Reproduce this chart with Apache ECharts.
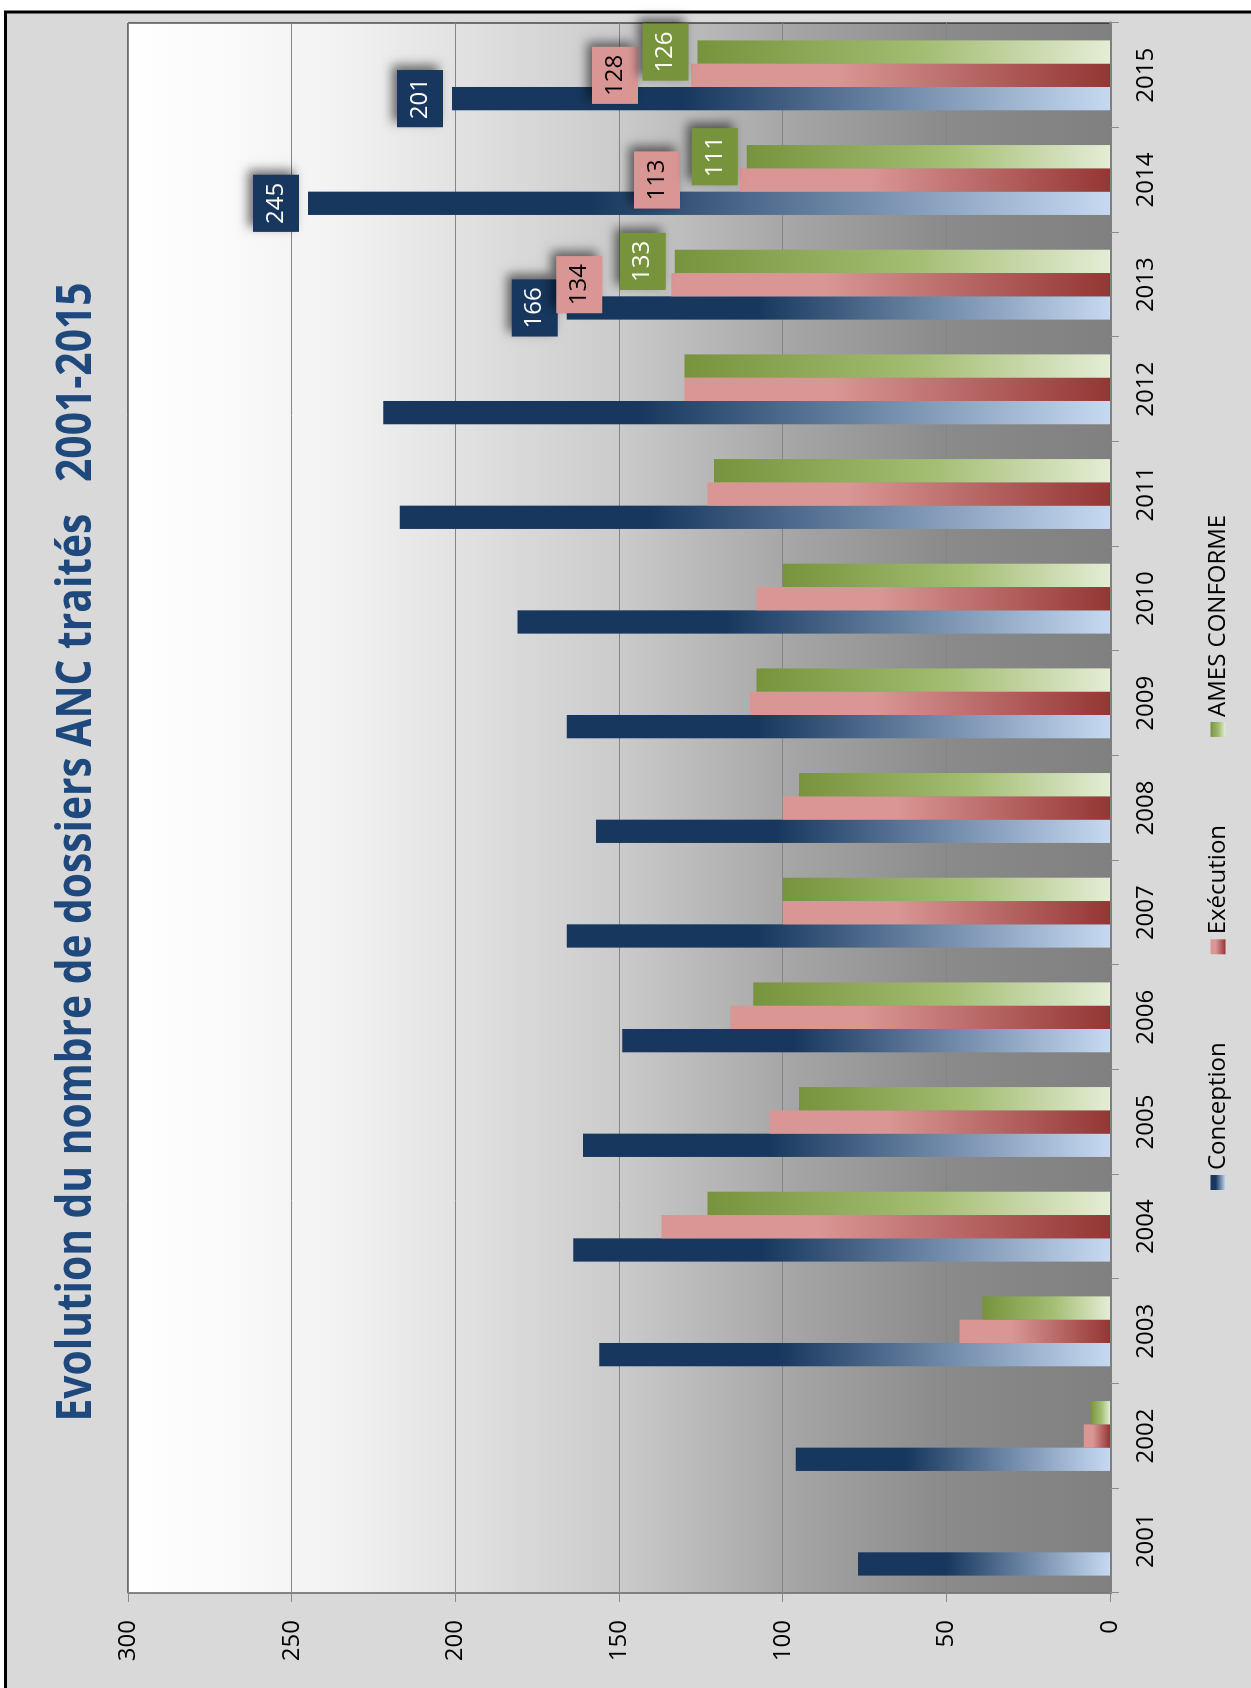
<!DOCTYPE html>
<html>
<head>
<meta charset="utf-8">
<script src="https://cdn.jsdelivr.net/npm/echarts@6/dist/echarts.min.js"></script>
<style>
html,body{margin:0;padding:0;width:1251px;height:1688px;overflow:hidden;background:#fff;}
#chart{position:absolute;left:0;top:0;width:1688px;height:1251px;transform-origin:0 0;transform:translate(0px,1688px) rotate(-90deg);}
</style>
</head>
<body>
<div id="chart"></div>
<script>
// ---- data ----
const categories = ['2001','2002','2003','2004','2005','2006','2007','2008','2009','2010','2011','2012','2013','2014','2015'];
const conception = [77, 96, 156, 164, 161, 149, 166, 157, 166, 181, 217, 222, 166, 245, 201];
const execution  = [0, 8, 46, 137, 104, 116, 100, 100, 110, 108, 123, 130, 134, 113, 128];
const amesConforme = [0, 6, 39, 123, 95, 109, 100, 95, 108, 100, 121, 130, 133, 111, 126];
const seriesNames = ['Conception', 'Exécution', 'AMES CONFORME'];
const labeledYears = ['2013', '2014', '2015'];
const titleText = 'Evolution du nombre de dossiers ANC traités   2001-2015';

// ---- styles (kept apart from data) ----
const LG = echarts.graphic.LinearGradient;
const barColors = [
  new LG(0,0,0,1,[{offset:0,color:'#17375e'},{offset:0.35,color:'#17375e'},{offset:1,color:'#c6d9f1'}]),
  new LG(0,0,0,1,[{offset:0,color:'#d99694'},{offset:0.35,color:'#d99694'},{offset:1,color:'#943634'}]),
  new LG(0,0,0,1,[{offset:0,color:'#77933c'},{offset:0.55,color:'#a3bd72'},{offset:1,color:'#e4edd5'}])
];
const labelBg = ['#17375e', '#d99694', '#77933c'];
const labelFg = ['#ffffff', '#000000', '#ffffff'];
const pinkLabelDistance = {'2013': 69, '2014': 60, '2015': 53};
const FONT = '"Open Sans", "Noto Sans", sans-serif';

function buildData(values, si) {
  return values.map(function (v, i) {
    const cat = categories[i];
    if (labeledYears.indexOf(cat) < 0) return v;
    let dist = 9;
    if (si === 1 && pinkLabelDistance[cat] !== undefined) dist = pinkLabelDistance[cat];
    return {
      value: v,
      label: {
        show: true, position: 'top', distance: dist,
        formatter: '{c}',
        color: labelFg[si], backgroundColor: labelBg[si],
        fontFamily: FONT, fontSize: 24, lineHeight: 24,
        padding: [11, 8, 11, 8],
        shadowColor: 'rgba(0,0,0,0.55)', shadowBlur: 10, shadowOffsetX: 5, shadowOffsetY: -5
      }
    };
  });
}

// title scaling (font is stretched in the reference)
const mc = document.createElement('canvas').getContext('2d');
mc.font = 'bold 40px "Open Sans"';
const tw = mc.measureText(titleText).width || 1100;
const titleScaleX = 1139 / tw;
const titleScaleY = 34 / (0.714 * 40);

const bgGrad = new LG(0,0,0,1,[
  {offset:0,color:'#ffffff'},{offset:0.1,color:'#fafafa'},{offset:0.227,color:'#f1f1f1'},
  {offset:0.333,color:'#e2e2e2'},{offset:0.5,color:'#cbcbcb'},{offset:0.667,color:'#a7a7a7'},
  {offset:0.833,color:'#8a8a8a'},{offset:1,color:'#808080'}
]);

const chart = echarts.init(document.getElementById('chart'), null, {renderer: 'canvas'});
const seriesValues = [conception, execution, amesConforme];
chart.setOption({
  animation: false,
  backgroundColor: '#ffffff',
  graphic: [
    {type: 'rect', z: -10, silent: true,
     shape: {x: -20, y: 5.5, width: 1696, height: 1300},
     style: {fill: '#d9d9d9', stroke: '#000', lineWidth: 3}},
    {type: 'text', z: 10, x: 836, y: 77, scaleX: titleScaleX, scaleY: titleScaleY,
     style: {text: titleText, x: 0, y: 0, align: 'center', verticalAlign: 'middle',
             font: 'bold 40px "Open Sans"', fill: '#1f497d'}}
  ],
  legend: {
    data: seriesNames, left: 493, top: 1201, itemWidth: 15, itemHeight: 15, itemGap: 88,
    icon: 'rect',
    textStyle: {fontFamily: FONT, fontSize: 24, color: '#000'}
  },
  grid: {
    left: 95, right: 23, top: 128, bottom: 141, show: true,
    backgroundColor: bgGrad, borderColor: '#000', borderWidth: 1
  },
  xAxis: {
    type: 'category', data: categories,
    axisLine: {lineStyle: {color: '#7f7f7f', width: 3}},
    axisTick: {show: true, length: 9, lineStyle: {color: '#8c8c8c', width: 1}},
    axisLabel: {fontFamily: FONT, fontSize: 24, color: '#000', margin: 24}
  },
  yAxis: {
    type: 'value', min: 0, max: 300, interval: 50,
    axisLine: {show: true, lineStyle: {color: '#888888', width: 1.5}},
    axisTick: {show: true, length: 9, lineStyle: {color: '#888888', width: 1}},
    axisLabel: {fontFamily: FONT, fontSize: 24, color: '#000', margin: 27},
    splitLine: {show: true, lineStyle: {color: '#858585', width: 1}}
  },
  series: seriesValues.map(function (vals, si) {
    return {
      name: seriesNames[si], type: 'bar', data: buildData(vals, si),
      barWidth: 23.3, barGap: '0%',
      itemStyle: {color: barColors[si]},
      label: {show: false}
    };
  })
});
</script>
</body>
</html>
